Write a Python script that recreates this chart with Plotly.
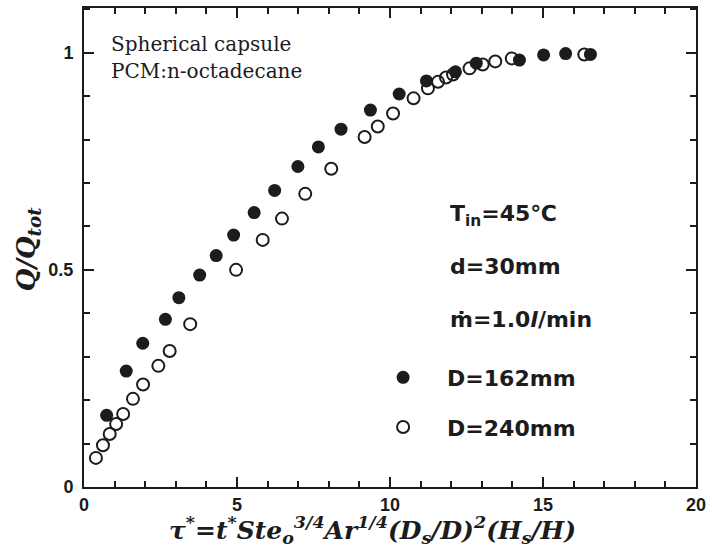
import plotly.graph_objects as go

# D = 162 mm (filled circles)
x_d162 = [0.74, 1.38, 1.92, 2.66, 3.10, 3.78, 4.32, 4.89, 5.56, 6.23, 6.99, 7.66,
          8.40, 9.36, 10.30, 11.19, 12.14, 12.82, 14.23, 15.02, 15.74, 16.55]
y_d162 = [0.165, 0.267, 0.331, 0.386, 0.436, 0.488, 0.533, 0.580, 0.632, 0.683, 0.738, 0.783,
          0.824, 0.868, 0.905, 0.935, 0.956, 0.976, 0.983, 0.995, 0.998, 0.996]

# D = 240 mm (open circles)
x_d240 = [0.39, 0.62, 0.84, 1.05, 1.28, 1.60, 1.93, 2.43, 2.80, 3.47, 4.97, 5.84, 6.47, 7.23,
          8.08, 9.17, 9.60, 10.10, 10.77, 11.24, 11.57, 11.83, 12.06, 12.60, 13.03, 13.44,
          13.98, 16.35]
y_d240 = [0.067, 0.096, 0.122, 0.145, 0.168, 0.203, 0.236, 0.279, 0.313, 0.375, 0.500, 0.569,
          0.618, 0.675, 0.733, 0.806, 0.830, 0.860, 0.895, 0.918, 0.933, 0.943, 0.950, 0.964,
          0.973, 0.980, 0.987, 0.996]

x_tickvals = [0, 5, 10, 15, 20]
x_ticktext = ["0", "5", "10", "15", "20"]
y_tickvals = [0, 0.5, 1]
y_ticktext = ["0", "0.5", "1"]

INK = "#1c1c1c"
SERIF = "DejaVu Serif"
SANS = "Liberation Sans"
LEG = "DejaVu Sans"

fig = go.Figure()
fig.add_trace(go.Scatter(
    x=x_d240, y=y_d240, mode="markers", name="D=240mm", legendrank=2, legendgroup="b",
    marker=dict(symbol="circle-open", size=12, color=INK, line=dict(width=2, color=INK)),
))
fig.add_trace(go.Scatter(
    x=x_d162, y=y_d162, mode="markers", name="D=162mm", legendrank=1, legendgroup="a",
    marker=dict(symbol="circle", size=13, color=INK),
))

axis_common = dict(
    showline=True, linecolor=INK, linewidth=2, mirror="ticks",
    ticks="inside", ticklen=10, tickwidth=1.5, tickcolor=INK,
    showgrid=False, zeroline=False,
    tickfont=dict(family=SANS, size=18, color=INK, weight="bold"),
)

fig.update_xaxes(range=[0, 20], tickmode="array", tickvals=x_tickvals, ticktext=x_ticktext,
                 minor=dict(dtick=1, ticks="inside", ticklen=6, tickwidth=1.5, tickcolor=INK),
                 ticklabelstandoff=0, **axis_common)
fig.update_yaxes(range=[0, 1.103], tickmode="array", tickvals=y_tickvals, ticktext=y_ticktext,
                 minor=dict(dtick=0.1, ticks="inside", ticklen=6, tickwidth=1.5, tickcolor=INK),
                 ticklabelstandoff=5, **axis_common)

L, R, T, B = 84, 14, 6, 62
W, H = 712, 549
pw, ph = W - L - R, H - T - B

def px(xp):
    return (xp - L) / pw

def py(yp):
    return (H - B - yp) / ph

annots = [
    dict(text="Spherical capsule", x=px(109), y=py(42), xanchor="left", yanchor="middle",
         font=dict(family=SERIF, size=20, color=INK)),
    dict(text="PCM:n-octadecane", x=px(109), y=py(69), xanchor="left", yanchor="middle",
         font=dict(family=SERIF, size=20, color=INK)),
    dict(text="T<sub>in</sub>=45℃", x=px(449), y=py(214), xanchor="left", yanchor="middle",
         font=dict(family=LEG, size=22, color=INK, weight="bold")),
    dict(text="d=30mm", x=px(449), y=py(266), xanchor="left", yanchor="middle",
         font=dict(family=LEG, size=22, color=INK, weight="bold")),
    dict(text="ṁ=1.0<i>l</i>/min", x=px(449), y=py(319), xanchor="left", yanchor="middle",
         font=dict(family=LEG, size=22, color=INK, weight="bold")),
    dict(text="<b><i>Q/Q<sub>tot</sub></i></b>", x=px(28), y=py(248), textangle=-90,
         xanchor="center", yanchor="middle",
         font=dict(family=SERIF, size=26, color=INK)),
    dict(text="<b><i>τ<sup>*</sup>=t<sup>*</sup>Ste<sub>o</sub><sup>3/4</sup>Ar<sup>1/4</sup>"
              "(D<sub>s</sub>/D)<sup>2</sup>(H<sub>s</sub>/H)</i></b>",
         x=px(373), y=0, yshift=-43, xanchor="center", yanchor="middle",
         font=dict(family=SERIF, size=25, color=INK)),
]
for a in annots:
    a.update(xref="paper", yref="paper", showarrow=False)

fig.update_layout(
    width=W, height=H,
    margin=dict(l=L, r=R, t=T, b=B),
    paper_bgcolor="white", plot_bgcolor="white",
    annotations=annots,
    showlegend=True,
    legend=dict(x=px(360), y=py(356), xanchor="left", yanchor="top",
                bgcolor="rgba(0,0,0,0)", borderwidth=0,
                font=dict(family=LEG, size=22, color=INK, weight="bold"),
                itemwidth=78, tracegroupgap=18, traceorder="grouped"),
)

fig.write_html("out.html")
